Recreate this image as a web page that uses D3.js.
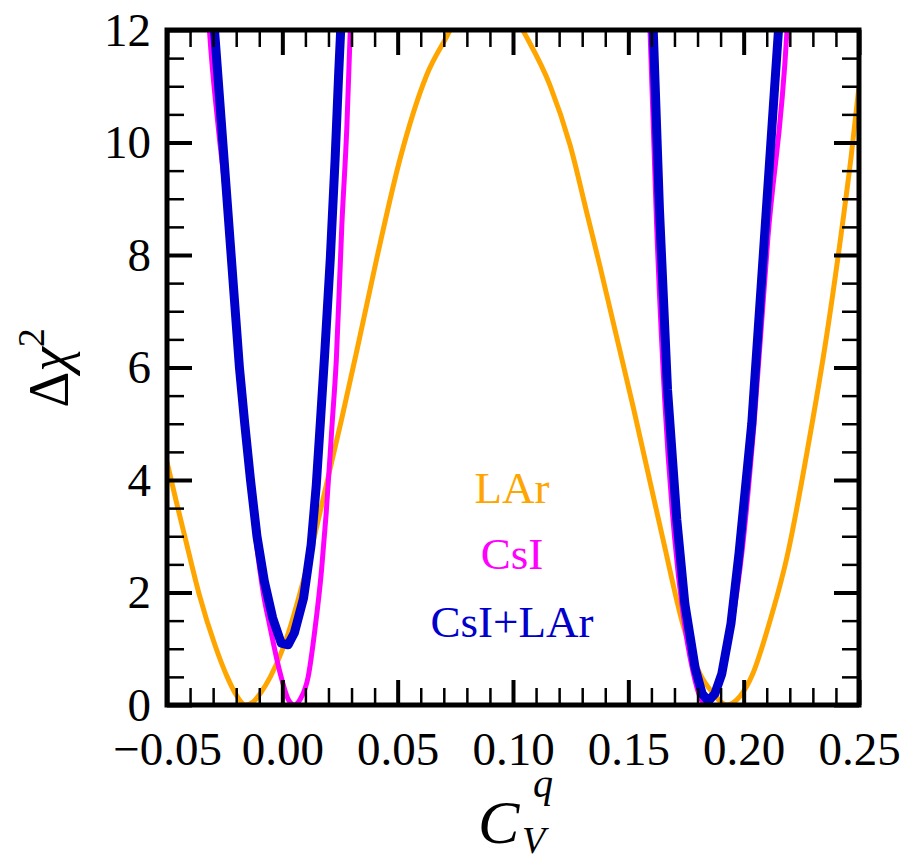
<!DOCTYPE html>
<html>
<head>
<meta charset="utf-8">
<script src="https://cdn.jsdelivr.net/npm/d3@7"></script>
<style>
  body { margin: 0; background: #fff; }
  svg text { font-family: 'Liberation Serif', 'DejaVu Serif', serif !important; }
</style>
</head>
<body>
<svg id="chart" width="908" height="857"></svg>
<script>
// values, [C_V^q, delta chi2]
const larPoints = [
  [-0.050, 4.32], [-0.046, 3.62], [-0.042, 2.95], [-0.0362, 1.99], [-0.029, 1.04],
  [-0.0239, 0.50], [-0.020, 0.18], [-0.016, 0.00], [-0.0125, 0.06], [-0.0095, 0.21],
  [-0.0052, 0.50], [0.0006, 1.04], [0.0107, 2.46], [0.0193, 3.95], [0.0258, 5.10],
  [0.0323, 6.30], [0.041, 7.95], [0.0511, 9.72], [0.0626, 11.20], [0.072, 11.94],
  [0.080, 12.60], [0.088, 12.80], [0.096, 12.60], [0.1045, 11.98], [0.116, 11.02],
  [0.1247, 9.96], [0.1326, 8.65], [0.1377, 7.80], [0.1521, 5.30], [0.165, 2.95],
  [0.1738, 1.41], [0.181, 0.56], [0.1867, 0.21], [0.1925, 0.00], [0.1983, 0.15],
  [0.204, 0.56], [0.2105, 1.37], [0.219, 2.67], [0.2274, 4.48], [0.2361, 6.60],
  [0.243, 8.60], [0.2466, 9.75], [0.250, 11.00]
];
const csiPoints = [
  [-0.0325, 12.6], [-0.0316, 12.0], [-0.0276, 10.2], [-0.0247, 9.10], [-0.0218, 7.60],
  [-0.0189, 6.00], [-0.0153, 4.65], [-0.0117, 3.05], [-0.0081, 1.95], [-0.0055, 1.42],
  [-0.0009, 0.56], [0.0027, 0.09], [0.0052, 0.00], [0.0080, 0.12], [0.0112, 0.50],
  [0.0140, 1.30], [0.0170, 2.40], [0.0190, 3.40], [0.0215, 4.95], [0.0234, 6.13],
  [0.0258, 8.53], [0.028, 10.31], [0.0294, 11.94], [0.0300, 12.6],
  null,
  [0.1588, 12.6], [0.1594, 12.0], [0.1622, 8.60], [0.1658, 5.40], [0.1700, 3.00],
  [0.1738, 1.60], [0.1780, 0.60], [0.1810, 0.15], [0.1838, 0.00], [0.1868, 0.15],
  [0.1900, 0.50], [0.1945, 1.35], [0.1995, 2.80], [0.2045, 5.00], [0.2105, 8.30],
  [0.2188, 12.0], [0.2196, 12.6]
];
const combPoints = [
  [-0.0305, 12.6], [-0.0294, 12.0], [-0.0258, 10.0], [-0.0222, 8.0], [-0.0186, 6.0],
  [-0.0163, 5.0], [-0.0138, 4.0], [-0.0110, 3.0], [-0.0078, 2.2], [-0.0042, 1.55],
  [-0.0005, 1.10], [0.0025, 1.07], [0.0052, 1.28], [0.0092, 1.90], [0.0125, 2.85],
  [0.0147, 3.90], [0.0166, 5.10], [0.0183, 6.20], [0.0208, 7.94], [0.0229, 9.72],
  [0.0244, 11.20], [0.0253, 12.0], [0.0258, 12.6],
  null,
  [0.1602, 12.6], [0.1608, 12.0], [0.1635, 8.80], [0.1670, 5.60], [0.1710, 3.30],
  [0.1745, 1.80], [0.1790, 0.65], [0.1820, 0.20], [0.1847, 0.07], [0.1875, 0.20],
  [0.1905, 0.55], [0.1945, 1.45], [0.1980, 2.70], [0.2035, 5.00], [0.2085, 8.00],
  [0.2151, 12.0], [0.2158, 12.6]
];

const xMajor = [-0.05, 0.00, 0.05, 0.10, 0.15, 0.20, 0.25];
const xLabels = ['\u22120.05', '0.00', '0.05', '0.10', '0.15', '0.20', '0.25'];
const yMajor = [0, 2, 4, 6, 8, 10, 12];
const yLabels = ['0', '2', '4', '6', '8', '10', '12'];
const xMinor = d3.range(-5, 26).map(i => i / 100);
const yMinor = d3.range(0, 25).map(i => i / 2);

const series = [
  {name: 'LAr', points: larPoints, color: '#ffa500', width: 5, curve: d3.curveMonotoneX},
  {name: 'CsI', points: csiPoints, color: '#ff00ff', width: 5, curve: d3.curveMonotoneX},
  {name: 'CsI+LAr', points: combPoints, color: '#0000cd', width: 9, curve: d3.curveLinear}
];

const svg = d3.select('svg#chart');
const margin = {top: 30, right: 49, bottom: 152, left: 167};
const innerWidth = +svg.attr('width') - margin.left - margin.right;
const innerHeight = +svg.attr('height') - margin.top - margin.bottom;

const xScale = d3.scaleLinear().domain([-0.05, 0.25]).range([0, innerWidth]);
const yScale = d3.scaleLinear().domain([0, 12]).range([innerHeight, 0]);

const g = svg.append('g')
  .attr('transform', `translate(${margin.left}, ${margin.top})`);

g.append('clipPath').attr('id', 'plot-clip')
  .append('rect').attr('width', innerWidth).attr('height', innerHeight);

// curves
g.append('g').attr('clip-path', 'url(#plot-clip)')
  .selectAll('path').data(series)
  .enter().append('path')
  .attr('d', d => d3.line()
    .defined(p => p !== null)
    .curve(d.curve)
    .x(p => xScale(p[0]))
    .y(p => yScale(p[1]))(d.points))
  .attr('fill', 'none')
  .attr('stroke', d => d.color)
  .attr('stroke-width', d => d.width)
  .attr('stroke-linejoin', 'round');

// ticks on all four sides, pointing inwards
const MAJOR = 25, MINOR = 17;
const addAxis = (axis, transform, labels, w) => {
  const a = g.append('g').attr('transform', transform).call(axis);
  a.select('.domain').remove();
  a.selectAll('.tick line').attr('stroke', '#000').attr('stroke-width', w);
  if (!labels) a.selectAll('text').remove();
  return a;
};

addAxis(d3.axisBottom(xScale).tickValues(xMinor).tickSize(-MINOR), `translate(0, ${innerHeight})`, false, 2.5);
addAxis(d3.axisTop(xScale).tickValues(xMinor).tickSize(-MINOR), 'translate(0, 0)', false, 2.5);
addAxis(d3.axisLeft(yScale).tickValues(yMinor).tickSize(-MINOR), 'translate(0, 0)', false, 2.5);
addAxis(d3.axisRight(yScale).tickValues(yMinor).tickSize(-MINOR), `translate(${innerWidth}, 0)`, false, 2.5);

addAxis(d3.axisBottom(xScale).tickValues(xMajor).tickSize(-MAJOR)
  .tickPadding(27).tickFormat((d, i) => xLabels[i]), `translate(0, ${innerHeight})`, true, 4);
addAxis(d3.axisTop(xScale).tickValues(xMajor).tickSize(-MAJOR), 'translate(0, 0)', false, 4);
addAxis(d3.axisLeft(yScale).tickValues(yMajor).tickSize(-MAJOR)
  .tickPadding(16).tickFormat((d, i) => yLabels[i]), 'translate(0, 0)', true, 4);
addAxis(d3.axisRight(yScale).tickValues(yMajor).tickSize(-MAJOR), `translate(${innerWidth}, 0)`, false, 4);

g.selectAll('.tick text')
  .attr('font-size', 47)
  .attr('fill', '#000');

// frame
g.append('rect')
  .attr('width', innerWidth).attr('height', innerHeight)
  .attr('fill', 'none').attr('stroke', '#000').attr('stroke-width', 5);

// legend labels in the plot
const legendY = [503, 569, 637];
g.selectAll('.legend').data(series)
  .enter().append('text')
  .attr('class', 'legend')
  .attr('x', 345)
  .attr('y', (d, i) => legendY[i] - margin.top)
  .attr('text-anchor', 'middle')
  .attr('font-size', 45)
  .attr('fill', d => d.color)
  .text(d => d.name);

// axis titles
svg.append('text').attr('x', 478).attr('y', 843).attr('font-size', 62)
  .attr('font-style', 'italic').text('C');
svg.append('text').attr('x', 533).attr('y', 797).attr('font-size', 40)
  .attr('font-style', 'italic').text('q');
svg.append('text').attr('x', 522).attr('y', 853).attr('font-size', 38)
  .attr('font-style', 'italic').text('V');

const yt = svg.append('text')
  .attr('transform', 'translate(68, 368) rotate(-90)')
  .attr('text-anchor', 'middle')
  .attr('font-size', 56);
yt.append('tspan').text('\u0394');
yt.append('tspan').attr('font-style', 'italic').text('\u03c7');
yt.append('tspan').attr('font-size', 38).attr('dy', -24).text('2');
</script>
</body>
</html>
